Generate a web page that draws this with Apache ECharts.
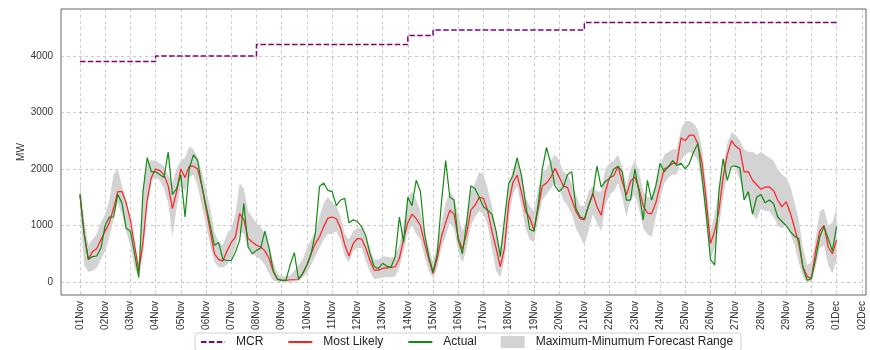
<!DOCTYPE html>
<html><head><meta charset="utf-8">
<script src="https://cdn.jsdelivr.net/npm/echarts@6/dist/echarts.min.js"></script>
<style>html,body{margin:0;padding:0;background:#fff}#c{width:870px;height:350px}</style>
</head><body><div id="c"></div>
<script>
// sampling step of the series below (hours from 01 Nov 00:00)
const stepHours = 4;

const dayLabels = ['01Nov','02Nov','03Nov','04Nov','05Nov','06Nov','07Nov','08Nov','09Nov','10Nov',
  '11Nov','12Nov','13Nov','14Nov','15Nov','16Nov','17Nov','18Nov','19Nov','20Nov',
  '21Nov','22Nov','23Nov','24Nov','25Nov','26Nov','27Nov','28Nov','29Nov','30Nov','01Dec','02Dec'];

const yTicks = [0, 1000, 2000, 3000, 4000];

// MCR per day (01Nov .. 30Nov), last value also used for 01Dec 00:00
const mcrByDay = [3900,3900,3900,4000,4000,4000,4000,4200,4200,4200,
  4200,4200,4200,4360,4460,4460,4460,4460,4460,4460,
  4590,4590,4590,4590,4590,4590,4590,4590,4590,4590];

const actual = [
  1550, 860, 400, 450, 460, 600,
  1000, 1150, 1150, 1550, 1400, 950,
  900, 500, 80, 1600, 2200, 1950,
  1950, 1900, 1850, 2300, 1550, 1650,
  1900, 1150, 2000, 2250, 2150, 1700,
  1350, 1000, 650, 700, 400, 380,
  380, 530, 740, 1390, 620, 500,
  560, 600, 900, 600, 200, 50,
  30, 30, 300, 520, 50, 150,
  300, 500, 860, 1690, 1750, 1620,
  1600, 1350, 1450, 1480, 1050, 1100,
  1070, 980, 820, 500, 270, 240,
  330, 280, 260, 450, 1150, 700,
  1500, 1350, 1800, 1600, 850, 450,
  180, 500, 1400, 2150, 1500, 1450,
  740, 500, 1050, 1700, 1650, 1500,
  1330, 1270, 1200, 900, 450, 1100,
  1740, 1880, 2200, 1900, 1400, 930,
  900, 1350, 2000, 2380, 2100, 1700,
  1600, 1680, 1900, 1950, 1300, 1150,
  1120, 1350, 1550, 2050, 1680, 1780,
  1830, 2000, 2050, 1950, 1450, 1450,
  2000, 1600, 1100, 1800, 1450, 1700,
  2100, 1950, 2040, 2150, 2060, 2100,
  2000, 2100, 2300, 2450, 1850, 1200,
  400, 300, 1600, 2180, 1800, 2050,
  2050, 2020, 1450, 1600, 1200, 1500,
  1550, 1400, 1450, 1390, 1150, 1070,
  1000, 890, 810, 770, 250, 30,
  60, 400, 800, 980, 770, 550,
  980
];

const mostLikely = [
  1550, 860, 400, 540, 590, 750,
  900, 1050, 1300, 1600, 1600, 1400,
  1100, 650, 200, 700, 1450, 1850,
  2000, 1970, 1900, 1700, 1300, 1600,
  2000, 1850, 2050, 2050, 2000, 1700,
  1300, 900, 500, 400, 370, 550,
  700, 800, 1210, 1100, 770, 710,
  650, 620, 550, 420, 180, 50,
  30, 30, 40, 40, 40, 150,
  300, 500, 680, 800, 980, 1130,
  1150, 1120, 950, 660, 460, 680,
  770, 760, 600, 380, 210, 210,
  240, 250, 260, 270, 420, 760,
  1050, 1200, 1120, 1000, 680, 400,
  150, 420, 800, 1050, 1270, 1200,
  780, 580, 860, 1270, 1360, 1500,
  1480, 1260, 900, 600, 270, 600,
  1400, 1760, 1890, 1600, 1250, 1140,
  920, 1300, 1700, 1750, 1850, 2010,
  1860, 1700, 1670, 1460, 1250, 1120,
  1100, 1350, 1570, 1330, 1180, 1600,
  1850, 1880, 2050, 1780, 1540, 1780,
  1860, 1650, 1350, 1220, 1210, 1400,
  1700, 2000, 2040, 2100, 2100, 2550,
  2500, 2600, 2600, 2450, 2100, 1450,
  680, 900, 1250, 1850, 2250, 2500,
  2400, 2350, 1950, 1950, 1800, 1720,
  1640, 1680, 1680, 1620, 1450, 1330,
  1420, 1220, 960, 680, 270, 100,
  60, 540, 900, 1000, 620, 500,
  740
];

const forecastMax = [
  1830, 1100, 650, 750, 850, 1050,
  1200, 1450, 1900, 2000, 1700, 1450,
  1100, 700, 350, 1600, 2100, 2150,
  2150, 2100, 2050, 1900, 1750, 2000,
  2150, 2200, 2400, 2350, 2200, 1950,
  1650, 1300, 900, 700, 650, 850,
  950, 1200, 1750, 1650, 1250, 1150,
  1050, 980, 850, 650, 350, 150,
  100, 100, 120, 200, 300, 400,
  600, 750, 900, 1150, 1400, 1500,
  1400, 1350, 1150, 850, 750, 900,
  950, 950, 800, 600, 400, 400,
  450, 450, 430, 450, 650, 1050,
  1500, 1600, 1450, 1250, 900, 600,
  350, 650, 1050, 1400, 1600, 1500,
  1200, 900, 1100, 1600, 1750, 1950,
  1900, 1650, 1350, 900, 600, 1000,
  1650, 2000, 2150, 1950, 1500, 1350,
  1250, 1650, 1950, 2000, 2150, 2250,
  2150, 1950, 1900, 1750, 1550, 1350,
  1350, 1600, 1700, 1600, 1600, 2000,
  2100, 2150, 2250, 2050, 1700, 2000,
  2150, 1950, 1600, 1500, 1500, 1750,
  2050, 2250, 2300, 2350, 2350, 2700,
  2850, 2850, 2800, 2700, 2350, 1700,
  900, 1200, 1600, 2050, 2450, 2650,
  2600, 2500, 2350, 2300, 2300, 2250,
  2300, 2250, 2200, 2150, 2000, 1900,
  1850, 1700, 1400, 1100, 600, 300,
  350, 750, 1250, 1300, 1000, 1050,
  1300
];

const forecastMin = [
  1300, 300, 180, 200, 250, 400,
  550, 800, 1100, 1400, 1200, 900,
  650, 250, 80, 450, 1300, 1800,
  1850, 1800, 1650, 1400, 800, 1300,
  1700, 1600, 1850, 1900, 1700, 1350,
  1000, 650, 350, 270, 250, 300,
  420, 600, 900, 850, 600, 500,
  450, 400, 300, 150, 20, 0,
  0, 0, 0, 20, 40, 80,
  150, 300, 450, 600, 750, 850,
  850, 900, 750, 450, 350, 550,
  600, 600, 380, 180, 50, 60,
  80, 90, 80, 100, 250, 550,
  900, 1000, 850, 750, 450, 200,
  60, 250, 600, 800, 1050, 950,
  550, 330, 600, 1000, 1150, 1250,
  1200, 1000, 600, 200, 80, 400,
  1100, 1550, 1700, 1350, 950, 750,
  700, 1100, 1450, 1550, 1650, 1750,
  1650, 1450, 1350, 1200, 950, 800,
  650, 900, 1200, 1050, 900, 1350,
  1550, 1600, 1750, 1500, 1150, 1450,
  1550, 1300, 950, 850, 800, 1150,
  1450, 1750, 1850, 1900, 1900, 2150,
  2250, 2300, 2250, 2150, 1700, 1000,
  400, 600, 950, 1500, 1900, 2100,
  2000, 1800, 1500, 1500, 1200, 1100,
  1300, 1250, 1250, 1150, 1000, 950,
  1000, 850, 650, 350, 80, 0,
  0, 250, 600, 650, 300, 150,
  400
];

const hourOf = i => i * stepHours;
const withX = arr => arr.map((v, i) => [hourOf(i), v]);
const mcrData = actual.map((_, i) => [hourOf(i), mcrByDay[Math.min(Math.floor(hourOf(i) / 24), mcrByDay.length - 1)]]);
const bandData = forecastMax.map((v, i) => [hourOf(i), forecastMin[i], v]);
const dayTicks = dayLabels.map((_, d) => d * 24);

const FONT = '"Liberation Sans", Arial, sans-serif';
const chart = echarts.init(document.getElementById('c'), null, {renderer: 'canvas'});
chart.setOption({
  animation: false,
  backgroundColor: '#fff',
  textStyle: {fontFamily: FONT},
  grid: {left: 61, right: 4, top: 9, bottom: 55, show: true, borderColor: '#666', borderWidth: 1, containLabel: false},
  legend: {
    left: 195, top: 333, padding: [3, 8, 3, 5], itemGap: 24, itemWidth: 24, itemHeight: 12,
    borderColor: '#d0d0d0', borderWidth: 1, borderRadius: 3,
    itemStyle: {opacity: 0},
    textStyle: {fontSize: 12, color: '#222', fontFamily: FONT, padding: [0, 0, 0, 6]},
    data: [
      {name: 'MCR'},
      {name: 'Most Likely'},
      {name: 'Actual'},
      {name: 'Maximum-Minumum Forecast Range', icon: 'rect', itemStyle: {color: '#d3d3d3', opacity: 1}}
    ]
  },
  xAxis: {
    type: 'value', min: -18, max: 748,
    axisLine: {show: false},
    axisTick: {show: false, customValues: dayTicks},
    axisLabel: {
      customValues: dayTicks, rotate: 90, fontSize: 10, color: '#333', margin: 6, fontFamily: FONT,
      formatter: v => dayLabels[Math.round(v / 24)]
    },
    splitLine: {show: true, lineStyle: {color: '#bdbdbd', type: [3, 3], width: 0.8}}
  },
  yAxis: {
    type: 'value', min: -230, max: 4830,
    name: 'MW', nameLocation: 'middle', nameGap: 35, nameRotate: 90, nameMoveOverlap: false,
    nameTextStyle: {fontSize: 10, color: '#333', fontFamily: FONT},
    axisLine: {show: false},
    axisTick: {show: false, customValues: yTicks},
    axisLabel: {customValues: yTicks, fontSize: 10, color: '#333', margin: 8, fontFamily: FONT,
      formatter: v => String(v)},
    splitLine: {show: true, lineStyle: {color: '#bdbdbd', type: [3, 3], width: 0.8}}
  },
  series: [
    {name: 'Maximum-Minumum Forecast Range', type: 'custom', data: bandData, silent: true, z: 1,
     itemStyle: {color: '#d3d3d3'},
     encode: {x: 0, y: [1, 2]},
     renderItem: (params, api) => {
       if (params.dataIndex !== 0) return null;
       const upper = bandData.map(d => api.coord([d[0], d[2]]));
       const lower = bandData.map(d => api.coord([d[0], d[1]])).reverse();
       return {type: 'polygon', shape: {points: upper.concat(lower)}, style: {fill: '#d3d3d3', stroke: null}};
     }},
    {name: 'MCR', type: 'line', data: mcrData, step: 'end', symbol: 'none', color: '#800080',
     lineStyle: {color: '#800080', width: 1.5, type: [5.5, 2.4]}, z: 3},
    {name: 'Most Likely', type: 'line', data: withX(mostLikely), symbol: 'none', color: '#ff2020',
     lineStyle: {color: '#ff2020', width: 1.2}, z: 4},
    {name: 'Actual', type: 'line', data: withX(actual), symbol: 'none', color: '#138a13',
     lineStyle: {color: '#138a13', width: 1.2}, z: 5}
  ]
});
</script>
</body></html>
